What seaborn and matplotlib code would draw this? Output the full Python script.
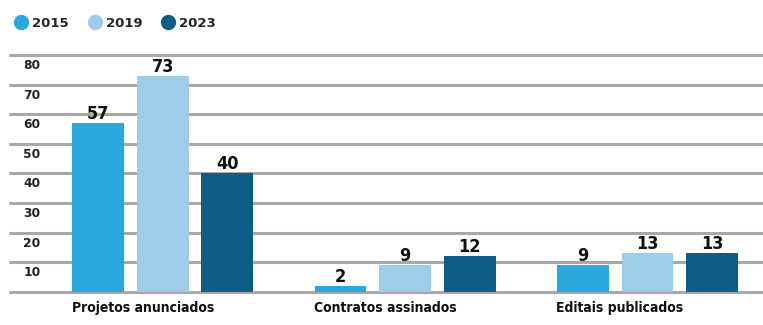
import matplotlib
matplotlib.use("Agg")
import matplotlib.pyplot as plt
import matplotlib.transforms as mtransforms
from matplotlib.lines import Line2D
import seaborn as sns
import pandas as pd

categories = ["Projetos anunciados", "Contratos assinados", "Editais publicados"]
years = ["2015", "2019", "2023"]
values_2015 = [57, 2, 9]
values_2019 = [73, 9, 13]
values_2023 = [40, 12, 13]
yticks = [0, 10, 20, 30, 40, 50, 60, 70, 80]
colors = ["#2aa8de", "#9fcde9", "#0d5d86"]

rows = []
for yr, vals in zip(years, [values_2015, values_2019, values_2023]):
    for c, v in zip(categories, vals):
        rows.append({"cat": c, "year": yr, "val": v})
df = pd.DataFrame(rows)

sns.set_theme(style="white")
plt.rcParams["font.family"] = ["DejaVu Sans"]

fig = plt.figure(figsize=(7.63, 3.25), dpi=100)
ax = fig.add_axes([10/763, 1 - 291.7/325, 753/763, (291.7 - 55)/325])

sns.barplot(data=df, x="cat", y="val", hue="year", palette=colors,
            width=0.8, gap=0.2, ax=ax, legend=False, saturation=1,
            linewidth=0, edgecolor="none", zorder=3)

ax.set_ylim(0, 80)
ax.set_xlim(-0.63, 2.477)
ax.set_yticks(yticks)
ax.set_yticklabels([""] + [str(t) for t in yticks[1:]])
ax.yaxis.grid(True, color="#a8a8a8", linewidth=2.2, zorder=0)
for gl in ax.yaxis.get_gridlines():
    gl.set_clip_on(False)
ax.set_axisbelow(True)
for s in ax.spines.values():
    s.set_visible(False)
ax.tick_params(axis="y", length=0, pad=-22, labelsize=8.8, labelcolor="#222222")
ax.tick_params(axis="x", length=0, pad=7, labelsize=10, labelcolor="#111111")
off = mtransforms.ScaledTranslation(0, -9/100, fig.dpi_scale_trans)
for lab in ax.get_yticklabels():
    lab.set_transform(lab.get_transform() + off)
    lab.set_fontweight("bold")
xoff = mtransforms.ScaledTranslation(-91/100, 0, fig.dpi_scale_trans)
for lab in ax.get_xticklabels():
    lab.set_fontweight("bold")
    lab.set_fontstretch("condensed")
    lab.set_horizontalalignment("left")
    lab.set_transform(lab.get_transform() + xoff)
ax.set_xlabel("")
ax.set_ylabel("")

for cont in ax.containers:
    ax.bar_label(cont, fmt="%d", padding=0, fontsize=13, fontweight="bold",
                 color="#111111", fontstretch="condensed")

handles = [Line2D([], [], marker="o", linestyle="", markersize=10,
                  markerfacecolor=c, markeredgecolor=c) for c in colors]
fig.legend(handles, years, loc="upper left", bbox_to_anchor=(3/763, 0.985),
           ncol=3, frameon=False, handletextpad=0.33, columnspacing=1.45,
           prop={"weight": "bold", "size": 9.5}, handlelength=1.0)

fig.savefig("out.png", dpi=100)
